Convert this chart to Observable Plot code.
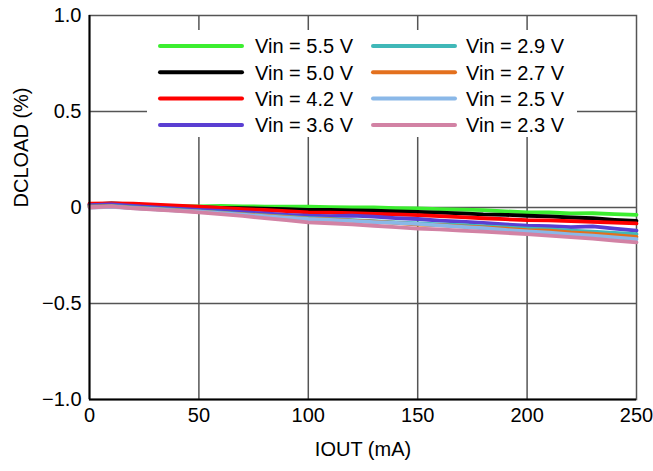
<!DOCTYPE html>
<html>
<head>
<meta charset="utf-8">
<script src="https://cdn.jsdelivr.net/npm/d3@7"></script>
<script src="https://cdn.jsdelivr.net/npm/@observablehq/plot@0.6"></script>
<style>
  body { margin: 0; background: #fff; }
  #chart { position: relative; width: 653px; height: 471px; }
</style>
</head>
<body>
<div id="chart"></div>
<script>
const iout = [0,10,20,30,40,50,60,70,80,90,100,110,120,130,140,150,160,170,180,190,200,210,220,230,240,250];
const seriesNames = ["Vin = 5.5 V","Vin = 5.0 V","Vin = 4.2 V","Vin = 3.6 V","Vin = 2.9 V","Vin = 2.7 V","Vin = 2.5 V","Vin = 2.3 V"];
const seriesColors = ["#3cee30","#000000","#ff0000","#5a3ed2","#40b8b8","#e3701e","#8ab8e8","#d282a4"];
const v55 = [0.010,0.014,0.011,0.009,0.007,0.006,0.008,0.006,0.005,0.004,0.004,0.002,0.001,0.000,-0.003,-0.005,-0.008,-0.011,-0.014,-0.020,-0.025,-0.026,-0.031,-0.030,-0.034,-0.038];
const v50 = [0.015,0.021,0.016,0.010,0.004,0.000,-0.002,-0.004,-0.006,-0.009,-0.012,-0.013,-0.015,-0.017,-0.020,-0.023,-0.027,-0.031,-0.036,-0.038,-0.043,-0.046,-0.052,-0.056,-0.064,-0.070];
const v42 = [0.020,0.022,0.020,0.015,0.009,0.004,-0.002,-0.008,-0.013,-0.019,-0.025,-0.027,-0.029,-0.033,-0.036,-0.040,-0.045,-0.050,-0.056,-0.061,-0.066,-0.067,-0.071,-0.075,-0.079,-0.083];
const v36 = [0.012,0.016,0.008,0.000,-0.006,-0.012,-0.018,-0.024,-0.031,-0.038,-0.043,-0.045,-0.042,-0.048,-0.055,-0.060,-0.068,-0.074,-0.080,-0.088,-0.095,-0.097,-0.102,-0.098,-0.110,-0.120];
const v29 = [0.005,0.008,0.000,-0.006,-0.013,-0.020,-0.027,-0.034,-0.041,-0.048,-0.055,-0.060,-0.066,-0.071,-0.077,-0.083,-0.088,-0.092,-0.098,-0.104,-0.110,-0.114,-0.121,-0.126,-0.132,-0.139];
const v27 = [0.005,0.006,-0.002,-0.008,-0.015,-0.022,-0.029,-0.036,-0.043,-0.050,-0.058,-0.062,-0.068,-0.074,-0.080,-0.089,-0.092,-0.098,-0.104,-0.110,-0.118,-0.120,-0.130,-0.136,-0.144,-0.153];
const v25 = [0.000,0.004,-0.003,-0.009,-0.016,-0.022,-0.029,-0.037,-0.045,-0.053,-0.060,-0.064,-0.070,-0.076,-0.080,-0.085,-0.093,-0.101,-0.108,-0.117,-0.125,-0.131,-0.140,-0.147,-0.156,-0.165];
const v23 = [0.000,0.006,-0.004,-0.011,-0.018,-0.025,-0.034,-0.044,-0.055,-0.066,-0.078,-0.082,-0.088,-0.095,-0.102,-0.110,-0.114,-0.120,-0.126,-0.132,-0.139,-0.146,-0.154,-0.162,-0.172,-0.182];
const xTicks = [0,50,100,150,200,250];
const yTicks = [-1,-0.5,0,0.5,1];
const yGrid = [-0.5,0,0.5];
const xGrid = [50,100,150,200];

const allValues = [v55,v50,v42,v36,v29,v27,v25,v23];
const data = [];
seriesNames.forEach((name, i) => {
  allValues[i].forEach((y, j) => data.push({series: name, x: iout[j], y}));
});

const font = "'Liberation Sans', Arial, sans-serif";
const yFmt = d => d === 0 ? "0" : d3.format(".1f")(d);

const plot = Plot.plot({
  width: 653,
  height: 471,
  marginLeft: 89,
  marginRight: 17,
  marginTop: 15,
  marginBottom: 72,
  style: {fontFamily: font, fontSize: "20px", color: "#000", background: "#fff"},
  x: {domain: [0, 250]},
  y: {domain: [-1, 1]},
  color: {domain: seriesNames, range: seriesColors},
  marks: [
    Plot.ruleX(xGrid, {stroke: "#555", strokeWidth: 1.5}),
    Plot.ruleY(yGrid, {stroke: "#555", strokeWidth: 1.5}),
    Plot.frame({stroke: "#555", strokeWidth: 1.5}),
    Plot.axisX(xTicks, {tickSize: 0, tickPadding: 8, label: null, fontSize: 20}),
    Plot.axisY(yTicks, {tickSize: 0, tickPadding: 8, label: null, tickFormat: yFmt, fontSize: 20}),
    Plot.line(data, {x: "x", y: "y", z: "series", stroke: "series", strokeWidth: 3.8, strokeLinejoin: "round", strokeLinecap: "round"}),
    Plot.ruleX([0], {stroke: "#000", strokeWidth: 2}),
    Plot.ruleY([-1], {stroke: "#000", strokeWidth: 2}),
    Plot.text(["IOUT (mA)"], {frameAnchor: "bottom", dy: 56, fontSize: 20, fill: "#000"}),
    Plot.text(["DCLOAD (%)"], {frameAnchor: "left", dx: -68, rotate: -90, fontSize: 20, fill: "#000"})
  ]
});

document.getElementById("chart").appendChild(plot);

// Legend box drawn inside the plot area (layout only)
const svg = d3.select(plot);
const lg = svg.append("g").attr("font-family", font).attr("font-size", 20).attr("text-anchor", "start");
lg.append("rect").attr("x", 147).attr("y", 30).attr("width", 430).attr("height", 107).attr("fill", "#fff");
seriesNames.forEach((name, i) => {
  const col = Math.floor(i / 4), row = i % 4;
  const x0 = col === 0 ? 160 : 373;
  const tx = col === 0 ? 255 : 466;
  const y = 46 + row * 26.3;
  lg.append("line").attr("x1", x0).attr("x2", x0 + 82).attr("y1", y).attr("y2", y)
    .attr("stroke", seriesColors[i]).attr("stroke-width", 4).attr("stroke-linecap", "round");
  lg.append("text").attr("x", tx).attr("y", y).attr("dy", "0.36em").attr("fill", "#000")
    .attr("text-anchor", "start").text(name);
});
</script>
</body>
</html>
